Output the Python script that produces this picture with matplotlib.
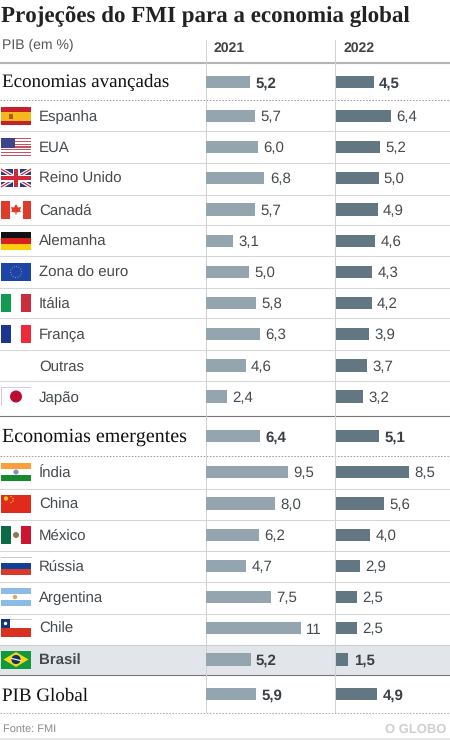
import matplotlib
matplotlib.use("Agg")
import matplotlib.pyplot as plt
from matplotlib.patches import Rectangle, Polygon, Circle

title = "Projeções do FMI para a economia global"
subtitle = "PIB (em %)"
years = ["2021", "2022"]
source = "Fonte: FMI"
brand = "O GLOBO"

group_adv = "Economias avançadas"
adv_2021_total = 5.2
adv_2022_total = 4.5
adv_names = ["Espanha", "EUA", "Reino Unido", "Canadá", "Alemanha", "Zona do euro", "Itália", "França", "Outras", "Japão"]
adv_2021 = [5.7, 6.0, 6.8, 5.7, 3.1, 5.0, 5.8, 6.3, 4.6, 2.4]
adv_2022 = [6.4, 5.2, 5.0, 4.9, 4.6, 4.3, 4.2, 3.9, 3.7, 3.2]

group_eme = "Economias emergentes"
eme_2021_total = 6.4
eme_2022_total = 5.1
eme_names = ["Índia", "China", "México", "Rússia", "Argentina", "Chile", "Brasil"]
eme_2021 = [9.5, 8.0, 6.2, 4.7, 7.5, 11, 5.2]
eme_2022 = [8.5, 5.6, 4.0, 2.9, 2.5, 2.5, 1.5]

group_glo = "PIB Global"
glo_2021 = 5.9
glo_2022 = 4.9

adv_y = [116, 147, 178, 209.5, 241, 272, 303, 334, 365.5, 396.5]
eme_y = [472, 503.5, 535, 566, 597, 628, 659.5]

SANS = "Liberation Sans"
SERIF = "Liberation Serif"
C21, C22 = "#95a5af", "#627782"
TXT = "#454a4e"
PX_PER_UNIT = 8.6
plt.rcParams["text.hinting"] = "none"
plt.rcParams["text.hinting_factor"] = 1

fig = plt.figure(figsize=(4.5, 7.4), dpi=100, facecolor="white")
W, H = 450.0, 740.0

bg = fig.add_axes([0, 0, 1, 1])
bg.set_xlim(0, W); bg.set_ylim(H, 0); bg.axis("off")


def make_bar_axes(x0, x1):
    a = fig.add_axes([x0 / W, 0, (x1 - x0) / W, 1])
    a.set_xlim(0, (x1 - x0) / PX_PER_UNIT)
    a.set_ylim(H, 0)
    a.axis("off")
    a.patch.set_alpha(0)
    return a


ax21 = make_bar_axes(206, 335)
ax22 = make_bar_axes(335.5, 450)

# background band and rules
bg.add_patch(Rectangle((0, 644.5), W, 30.5, fc="#e2e6ea", ec="none", zorder=0))
bg.add_patch(Rectangle((0, 737.5), W, 2.5, fc="#e8e8e8", ec="none", zorder=0))
for y in [131, 163, 194.5, 225, 256, 287.5, 318, 349.5, 380.5, 488.5, 520, 550.5, 582, 613.5]:
    bg.plot([0, W], [y, y], color="#d6d6d6", lw=0.75, zorder=1)
bg.plot([0, W], [644.5, 644.5], color="#c9cdd0", lw=0.75, zorder=1)
bg.plot([0, W], [62.5, 62.5], color="#b4b4b4", lw=1.5, zorder=1)
for y in [415.5, 675]:
    bg.plot([0, W], [y, y], color="#777777", lw=0.8, zorder=1)
for y, c in [(99.5, "#a89aa5"), (456, "#a0a0a0"), (712.5, "#b0b0b0")]:
    bg.plot([0, W], [y, y], color=c, lw=0.75, ls=(0, (1.5, 1.5)), zorder=1)
for x in [206, 335]:
    bg.plot([x, x], [40, 712], color="#d2d2d2", lw=0.75, zorder=1)

# texts
bg.text(1, 22, title, family=SERIF, weight="bold", fontsize=16.3, color="#222222", va="baseline", ha="left")
bg.text(2, 49, subtitle, family=SANS, fontsize=10.1, color="#555555", va="baseline")
bg.text(214, 52, years[0], family=SANS, weight="bold", fontsize=10.2, color="#444444", va="baseline")
bg.text(344, 52, years[1], family=SANS, weight="bold", fontsize=10.2, color="#444444", va="baseline")
bg.text(2, 87, group_adv, family=SERIF, fontsize=14, color="#111111", va="baseline")
bg.text(2, 442, group_eme, family=SERIF, fontsize=14.1, color="#111111", va="baseline")
bg.text(2, 700.5, group_glo, family=SERIF, fontsize=13.6, color="#111111", va="baseline")
bg.text(3, 732, source, family=SANS, fontsize=7.7, color="#8a8a8a", va="baseline")
bg.text(446, 733, brand, family=SANS, weight="bold", fontsize=9.4, color="#cfcfcf", va="baseline", ha="right")

for names, ys in [(adv_names, adv_y), (eme_names, eme_y)]:
    for n, y in zip(names, ys):
        bold = n == "Brasil"
        bg.text(39, y + 5, n, family=SANS, fontsize=10.7, color=TXT, va="baseline",
                weight="bold" if bold else "normal")


def draw_bars(ax, vals, ys, color, bold=False, left=0.0, h=12.5):
    ax.barh(ys, vals, left=left, height=h, color=color, edgecolor="none", zorder=3)
    for v, y in zip(vals, ys):
        s = str(v).replace(".", ",")
        ax.annotate(s, (v + left, y), xytext=(3.8, -3.96), textcoords="offset points",
                    family=SANS, fontsize=10.7, color="#3c4044" if bold else TXT,
                    weight="bold" if bold else "normal", va="baseline", ha="left", zorder=4)


draw_bars(ax21, adv_2021[:], adv_y, C21)
draw_bars(ax22, adv_2022[:], adv_y, C22)
draw_bars(ax21, eme_2021[:-1], eme_y[:-1], C21)
draw_bars(ax22, eme_2022[:-1], eme_y[:-1], C22)
draw_bars(ax21, eme_2021[-1:], eme_y[-1:], C21, bold=True)
draw_bars(ax22, eme_2022[-1:], eme_y[-1:], C22, bold=True)
draw_bars(ax21, [adv_2021_total, eme_2021_total, glo_2021], [82, 436, 694], C21, bold=True, left=-0.09)
draw_bars(ax22, [adv_2022_total, eme_2022_total, glo_2022], [82, 436, 694], C22, bold=True, left=-0.06)


# flags, 30 x 18 px boxes
def rect(x, y, w, h, c, z=5):
    bg.add_patch(Rectangle((x, y), w, h, fc=c, ec="none", zorder=z))


def stripes_h(cy, cols, x=1, w=30, h=18):
    t = cy - h / 2
    n = len(cols)
    for i, c in enumerate(cols):
        rect(x, t + i * h / n, w, h / n, c)


def stripes_v(cy, cols, x=1, w=30, h=18):
    t = cy - h / 2
    n = len(cols)
    for i, c in enumerate(cols):
        rect(x + i * w / n, t, w / n, h, c)


def pts(p, c, z=6):
    bg.add_patch(Polygon(p, closed=True, fc=c, ec="none", zorder=z))


def flag_spain(cy):
    stripes_h(cy, ["#c8202a", "#f5b81c", "#f5b81c", "#c8202a"])
    rect(9, cy - 2.5, 4, 5, "#b5561f", 6)


def flag_usa(cy):
    stripes_h(cy, ["#c8505f" if i % 2 == 0 else "#ffffff" for i in range(13)])
    rect(1, cy - 9, 14, 9.5, "#3d4488", 6)


def flag_uk(cy):
    t = cy - 9
    rect(1, t, 30, 18, "#2a3a80")
    for a, b in [((1, t), (31, t + 18)), ((1, t + 18), (31, t))]:
        bg.plot([a[0], b[0]], [a[1], b[1]], color="white", lw=2.6, zorder=6, solid_capstyle="butt")
        bg.plot([a[0], b[0]], [a[1], b[1]], color="#d02a3a", lw=0.9, zorder=6, solid_capstyle="butt")
    rect(12.5, t, 7, 18, "white", 7)
    rect(1, cy - 3.5, 30, 7, "white", 7)
    rect(14, t, 4, 18, "#d02a3a", 8)
    rect(1, cy - 2, 30, 4, "#d02a3a", 8)


def flag_canada(cy):
    rect(1, cy - 9, 30, 18, "#ffffff")
    rect(1, cy - 9, 8.5, 18, "#e03a2c")
    rect(23, cy - 9, 8, 18, "#e03a2c")
    pts([(16, cy - 5.5), (18, cy - 2), (21, cy - 2.5), (20, cy + 1), (21.5, cy + 2),
         (16.5, cy + 3), (16.5, cy + 5), (15.5, cy + 5), (15.5, cy + 3), (10.5, cy + 2),
         (12, cy + 1), (11, cy - 2.5), (14, cy - 2)], "#e03a2c")


def flag_germany(cy):
    stripes_h(cy, ["#111111", "#d8201f", "#fcce0a"])


def flag_eu(cy):
    rect(1, cy - 9, 30, 18, "#1c45a8")
    bg.add_patch(Circle((16, cy), 5.5, fc="none", ec="#c9b765", lw=0.6, ls=(0, (1, 2)), zorder=6))


def flag_italy(cy):
    stripes_v(cy, ["#119a52", "#ffffff", "#cc2d3e"])


def flag_france(cy):
    stripes_v(cy, ["#1c3591", "#ffffff", "#ee2a3b"])


def flag_japan(cy):
    rect(1, cy - 9.5, 30, 19, "#d8c8d0")
    rect(1.5, cy - 9, 29, 18, "#ffffff")
    bg.add_patch(Circle((16, cy), 6, fc="#bd0a33", ec="none", zorder=6))


def flag_india(cy):
    stripes_h(cy, ["#fb9f3d", "#ffffff", "#17892f"])
    bg.add_patch(Circle((16, cy), 2.5, fc="#8a8ac0", ec="none", zorder=6))


def flag_china(cy):
    rect(1, cy - 9, 30, 18, "#df2a1c")
    bg.add_patch(Circle((6, cy - 5), 2.2, fc="#f5c518", ec="none", zorder=6))
    for dx, dy in [(10, -7), (12, -5), (12, -2.5), (10, -1)]:
        bg.add_patch(Circle((1 + dx, cy + dy), 0.7, fc="#f5c518", ec="none", zorder=6))


def flag_mexico(cy):
    stripes_v(cy, ["#0b6b45", "#ffffff", "#ce1530"])
    bg.add_patch(Circle((16, cy), 3, fc="#8a7a50", ec="none", zorder=6))


def flag_russia(cy):
    stripes_h(cy, ["#ffffff", "#123f9c", "#d83a28"])
    bg.plot([1, 31], [cy - 9, cy - 9], color="#c8c8c8", lw=0.7, zorder=6)


def flag_argentina(cy):
    stripes_h(cy, ["#8cbbe6", "#ffffff", "#8cbbe6"])
    bg.add_patch(Circle((15, cy), 2.2, fc="#d9a860", ec="none", zorder=6))


def flag_chile(cy):
    stripes_h(cy, ["#ffffff", "#d8301f"])
    rect(1, cy - 9, 9, 9, "#13347f", 6)
    bg.add_patch(Circle((5.5, cy - 4.5), 1.7, fc="white", ec="none", zorder=7))
    bg.plot([10, 31], [cy - 9, cy - 9], color="#cccccc", lw=0.7, zorder=6)


def flag_brazil(cy):
    rect(1, cy - 9, 30, 18, "#109a3c")
    pts([(3.5, cy), (16, cy - 7.5), (28.5, cy), (16, cy + 7.5)], "#f8d80f")
    bg.add_patch(Circle((16, cy), 4.6, fc="#10306f", ec="none", zorder=7))
    bg.plot([11.7, 20.3], [cy - 1, cy + 1], color="white", lw=0.8, zorder=8)


for fn, y in zip([flag_spain, flag_usa, flag_uk, flag_canada, flag_germany, flag_eu,
                  flag_italy, flag_france], adv_y):
    fn(y)
flag_japan(adv_y[9])
for fn, y in zip([flag_india, flag_china, flag_mexico, flag_russia, flag_argentina,
                  flag_chile, flag_brazil], eme_y):
    fn(y)

fig.savefig("out.png", dpi=100, facecolor="white")
